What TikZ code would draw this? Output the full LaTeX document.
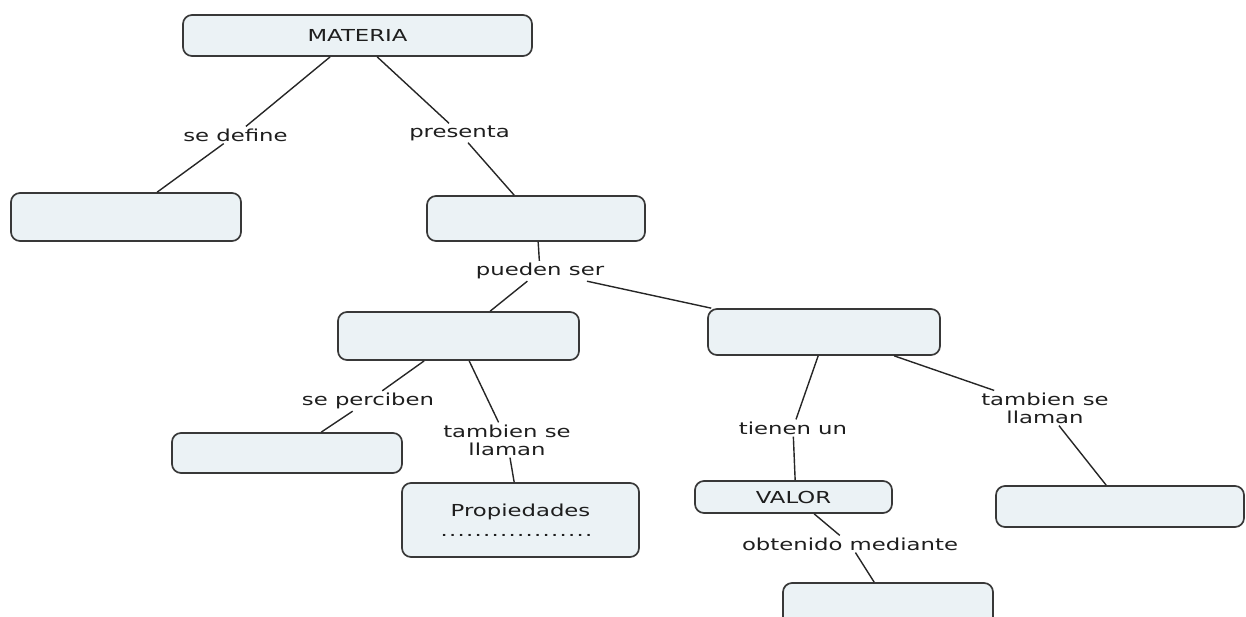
\documentclass[tikz,border=0pt]{standalone}
\usepackage{fontspec}
\setmainfont{DejaVu Sans}[FakeStretch=1.38]
\definecolor{boxfill}{HTML}{EBF2F5}
\definecolor{boxline}{HTML}{383838}
\definecolor{conn}{HTML}{262626}
\definecolor{txt}{HTML}{1E1E1E}
\tikzset{
  concept/.style={draw=boxline, fill=boxfill, line width=1.7pt, rounded corners=9pt,
    inner sep=0pt, text=txt, font=\fontsize{16.5}{18}\selectfont, align=center},
  linklabel/.style={inner sep=2pt, text=txt, font=\fontsize{16.5}{18}\selectfont, align=center},
  conector/.style={draw=conn, line width=1.4pt}
}
\begin{document}
\begin{tikzpicture}[x=1pt,y=-1pt]
\useasboundingbox (0,0) rectangle (1246,616);
\clip (0,0) rectangle (1246,616);
% concepts
\node[concept, minimum width=349pt, minimum height=41pt] (materia) at (357.5,35.5) {MATERIA};
\node[concept, minimum width=230pt, minimum height=48pt] (def) at (126,217) {};
\node[concept, minimum width=218pt, minimum height=45pt] (pres) at (536,218.5) {};
\node[concept, minimum width=241pt, minimum height=48pt] (lmid) at (458.5,336) {};
\node[concept, minimum width=232pt, minimum height=46pt] (rmid) at (824,332) {};
\node[concept, minimum width=230pt, minimum height=40pt] (perc) at (287,453) {};
\node[concept, minimum width=237pt, minimum height=74pt] (prop) at (520.5,520) {Propiedades\\[2pt]\makebox[161pt]{\leaders\hbox to 8.5pt{\hss.\hss}\hfill}};
\node[concept, minimum width=197pt, minimum height=32pt] (valor) at (793.5,497) {VALOR};
\node[concept, minimum width=210pt, minimum height=57pt] (bottom) at (888,611.5) {};
\node[concept, minimum width=248pt, minimum height=41pt] (right) at (1120,506.5) {};
% link labels
\node[linklabel] (lsedef) at (235.5,135) {se define};
\node[linklabel] (lpres) at (459.5,133) {presenta};
\node[linklabel] (lpueden) at (540,271) {pueden ser};
\node[linklabel] (lperc) at (368,401) {se perciben};
\node[linklabel] (ltamb1) at (507,440) {tambien se\\llaman};
\node[linklabel] (ltienen) at (793,428) {tienen un};
\node[linklabel] (ltamb2) at (1045,408) {tambien se\\llaman};
\node[linklabel] (lobt) at (850,544) {obtenido mediante};
% connectors
\draw[conector] ([xshift=148pt]materia.south west) -- (lsedef) -- ([xshift=147pt]def.north west);
\draw[conector] ([xshift=195pt]materia.south west) -- (lpres) -- ([xshift=88pt]pres.north west);
\draw[conector] ([xshift=112pt]pres.south west) -- (lpueden);
\draw[conector] (lpueden) -- ([xshift=153pt]lmid.north west);
\draw[conector] (lpueden) -- ([xshift=4pt]rmid.north west);
\draw[conector] ([xshift=87pt]lmid.south west) -- (lperc) -- ([xshift=150pt]perc.north west);
\draw[conector] ([xshift=132pt]lmid.south west) -- (ltamb1) -- ([xshift=113pt]prop.north west);
\draw[conector] ([xshift=111pt]rmid.south west) -- (ltienen) -- ([xshift=101pt]valor.north west);
\draw[conector] ([xshift=187pt]rmid.south west) -- (ltamb2) -- ([xshift=111pt]right.north west);
\draw[conector] ([xshift=120pt]valor.south west) -- (lobt) -- ([xshift=92pt]bottom.north west);
\end{tikzpicture}
\end{document}
